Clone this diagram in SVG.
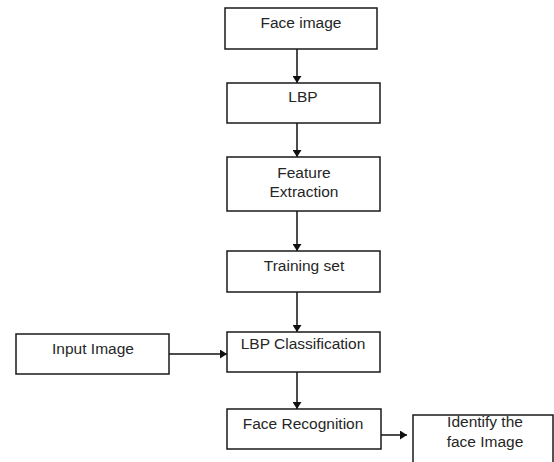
<svg xmlns="http://www.w3.org/2000/svg" width="554" height="462" viewBox="0 0 554 462">
<style>
.box{fill:#fff;stroke:#1a1a1a;stroke-width:1.5}
.lbl{font-family:"Liberation Sans",Arial,sans-serif;font-size:15.5px;fill:#262626;text-anchor:middle}
.edge{stroke:#111;stroke-width:1.5;fill:none;marker-end:url(#ah)}
</style>
<defs>
<marker id="ah" markerUnits="userSpaceOnUse" markerWidth="9" markerHeight="9" refX="7" refY="4.5" orient="auto">
<path d="M0,0 L7,4.5 L0,9 Z" fill="#111"/>
</marker>
</defs>
<rect width="554" height="462" fill="#fff"/>
<g id="connectors">
<line class="edge" x1="297" y1="49" x2="297" y2="83"/>
<line class="edge" x1="297" y1="123" x2="297" y2="157"/>
<line class="edge" x1="297" y1="211" x2="297" y2="251"/>
<line class="edge" x1="297" y1="292" x2="297" y2="332"/>
<line class="edge" x1="297" y1="372" x2="297" y2="409"/>
<line class="edge" x1="169" y1="354" x2="227" y2="354"/>
<line class="edge" x1="381" y1="435" x2="407" y2="435"/>
</g>
<g id="face-image">
<rect class="box" x="225" y="8" width="152" height="41"/>
<text class="lbl" x="301" y="28">Face image</text>
</g>
<g id="lbp">
<rect class="box" x="227" y="83" width="153" height="40"/>
<text class="lbl" x="303" y="102">LBP</text>
</g>
<g id="feature-extraction">
<rect class="box" x="227" y="157" width="153" height="54"/>
<text class="lbl" x="304" y="178">Feature</text>
<text class="lbl" x="304" y="197">Extraction</text>
</g>
<g id="training-set">
<rect class="box" x="227" y="251" width="153" height="41"/>
<text class="lbl" x="304" y="271">Training set</text>
</g>
<g id="lbp-classification">
<rect class="box" x="227" y="332" width="153" height="40"/>
<text class="lbl" x="303" y="349">LBP Classification</text>
</g>
<g id="input-image">
<rect class="box" x="16" y="334" width="153" height="40"/>
<text class="lbl" x="93" y="354">Input Image</text>
</g>
<g id="face-recognition">
<rect class="box" x="227" y="409" width="154" height="40"/>
<text class="lbl" x="303" y="429">Face Recognition</text>
</g>
<g id="identify">
<rect class="box" x="413" y="415" width="140" height="60"/>
<text class="lbl" x="485" y="427">Identify the</text>
<text class="lbl" x="485" y="447">face Image</text>
</g>
</svg>
